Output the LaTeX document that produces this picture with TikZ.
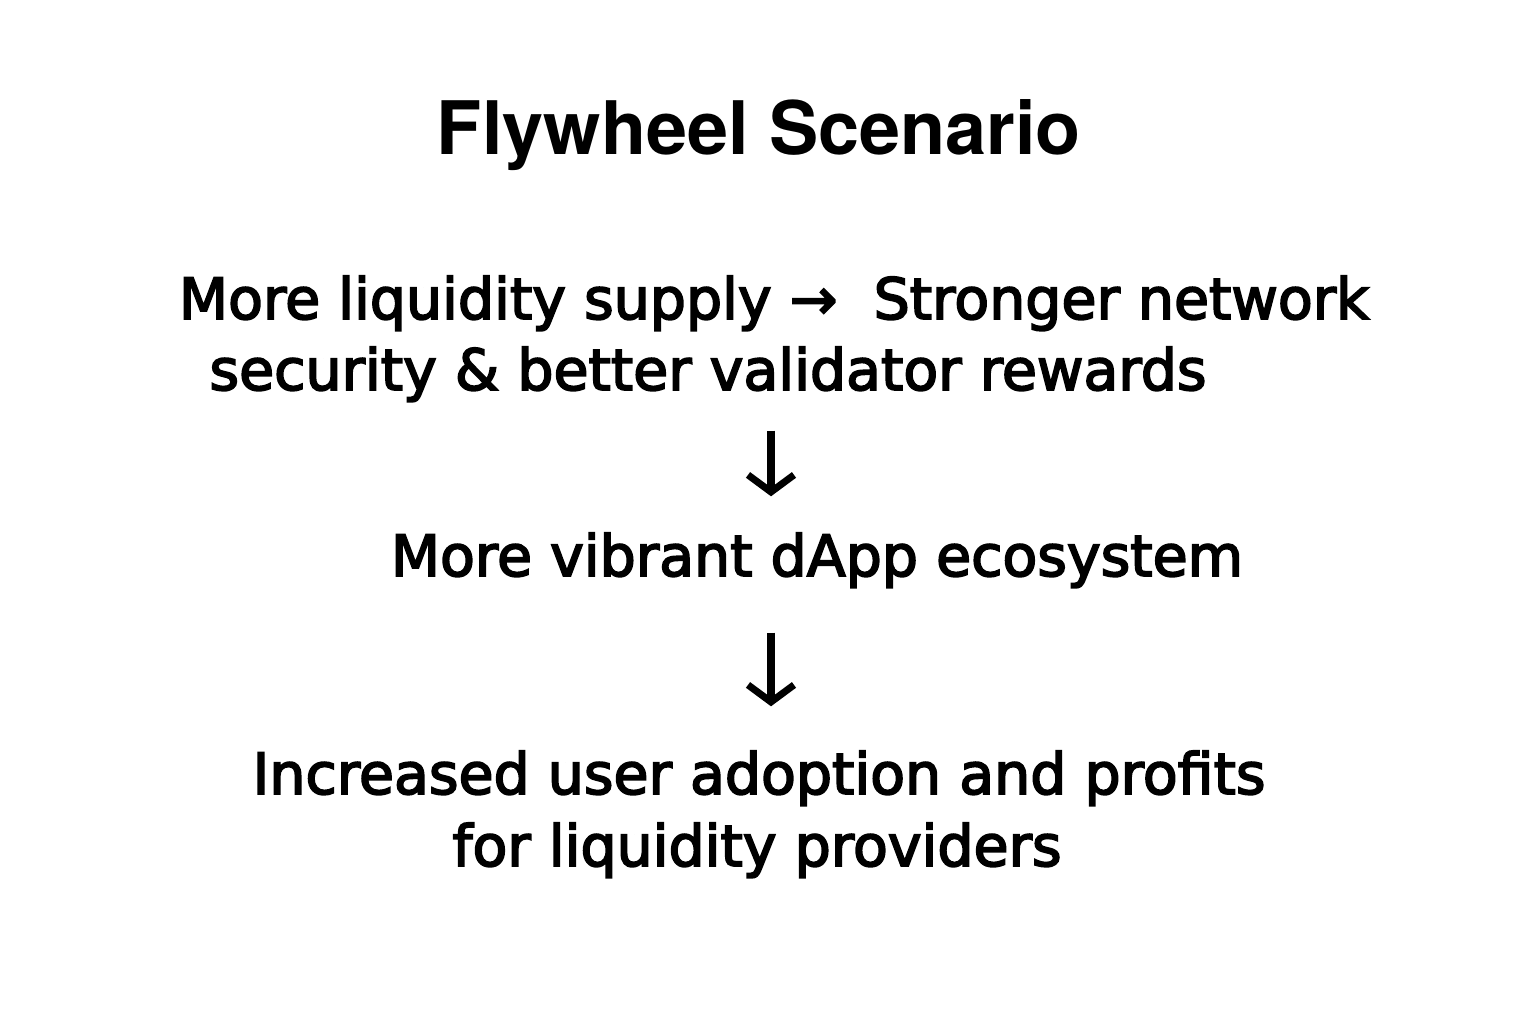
\documentclass[tikz,border=0pt]{standalone}
\usepackage{fontspec}
\setmainfont{DejaVu Sans}
\newfontfamily\headfont{TeX Gyre Heros}
\newfontfamily\arrowfont{DejaVu Sans}
\usetikzlibrary{arrows.meta,positioning}
\newcommand{\heavier}{\special{pdf:code 2 Tr 0.5 w}}

\begin{document}
\begin{tikzpicture}[
    title/.style={font=\headfont\bfseries\fontsize{21}{25}\selectfont, inner sep=0pt, anchor=base},
    body/.style={font=\fontsize{16.2}{20}\selectfont, inner sep=0pt, anchor=base,
                 text height=0.42cm, text depth=0.12cm},
    flow/.style={-{Straight Barb[length=1.7mm, width=4.6mm, line width=2pt]}, line width=2pt}
]
\useasboundingbox (0,0) rectangle (15.36,10.24);

\node[title] (head) at (7.59,8.69) {Flywheel Scenario};

\node[body] (supply) at (7.74,7.05) {\heavier More liquidity supply {\arrowfont →}\ \ Stronger network};
\node[body] (secure) at (7.08,6.34) {\heavier security \& better validator rewards};

\node[body] (dapp) at (8.17,4.48) {\heavier More vibrant dApp ecosystem};

\node[body] (adopt) at (7.59,2.30) {\heavier Increased user adoption and profits};
\node[body] (lps) at (7.57,1.58) {\heavier for liquidity providers};

\coordinate (axis) at (7.71,0);

\draw[flow, shorten <=0.28cm, shorten >=0.37cm] (secure.south -| axis) -- (dapp.north -| axis);
\draw[flow, shorten <=0.44cm, shorten >=0.45cm] (dapp.south -| axis) -- (adopt.north -| axis);

\end{tikzpicture}
\end{document}
